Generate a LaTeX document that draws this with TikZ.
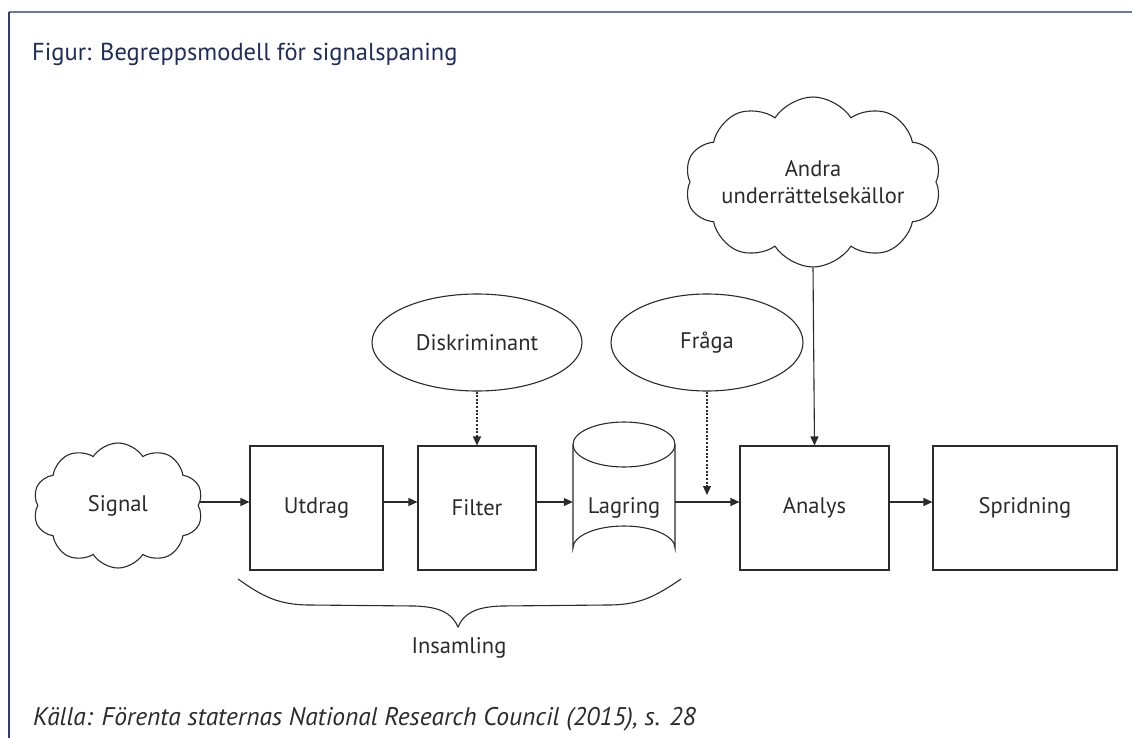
\documentclass[tikz,border=0pt]{standalone}
\usepackage{fontspec}
\setmainfont{PT Sans}
\usetikzlibrary{shapes.geometric,shapes.symbols,arrows.meta}
\definecolor{navy}{HTML}{1F2C5E}
\definecolor{framegray}{HTML}{6C7AA0}
\definecolor{framenavy}{HTML}{2E3C78}
\definecolor{ink}{HTML}{2B2B2B}
\tikzset{
  every node/.style={text=ink,font=\fontsize{22.5}{27}\selectfont},
  box/.style={draw=ink,line width=1.1pt,rectangle,minimum height=124pt,inner sep=0pt},
  oval/.style={draw=ink,line width=1.1pt,ellipse,minimum height=97pt,inner sep=0pt},
  puff/.style={draw=ink,line width=1.1pt,cloud,cloud puffs=10,cloud puff arc=115,cloud ignores aspect,inner sep=0pt},
  conn/.style={draw=ink,line width=1.1pt,-{Triangle[length=9pt,width=8pt]}},
  dotconn/.style={conn,dash pattern=on 2pt off 1.6pt}
}
\begin{document}
\begin{tikzpicture}[x=1pt,y=-1pt]
\useasboundingbox (0,0) rectangle (1132,738);
\fill[white] (0,0) rectangle (1132,738);
% frame
\draw[framegray,line width=2pt] (9,12) -- (1132,12);
\draw[framenavy,line width=1.5pt] (9,12) -- (9,738);
% title and source
\node[anchor=base west,text=navy,inner sep=0pt,font=\fontsize{24.5}{29}\selectfont] (title) at (32,61) {Figur: Begreppsmodell för signalspaning};
\node[anchor=base west,inner sep=0pt,font=\fontsize{25.5}{30}\selectfont\itshape] (source) at (33,725) {Källa: Förenta staternas National Research Council (2015), s. 28};
% main nodes
\node[puff,minimum width=170pt,minimum height=125pt] (signal) at (118,505.5) {Signal};
\node[box,minimum width=133pt] (utdrag) at (316.5,508) {Utdrag};
\node[box,minimum width=118pt] (filter) at (477,508) {Filter};
% cylinder drawn by hand
\draw[ink,line width=1.1pt] (573,444.5) -- (573,548) arc[start angle=180,end angle=360,x radius=51,y radius=22] -- (675,444.5);
\draw[ink,line width=1.1pt] (624,444.5) ellipse[x radius=51,y radius=22.5];
\node[minimum width=102pt,minimum height=124pt,inner sep=0pt] (lagring) at (624,508) {Lagring};
\node[box,minimum width=149pt] (analys) at (814.5,508) {Analys};
\node[box,minimum width=184pt] (spridning) at (1025,508) {Spridning};
\node[oval,minimum width=210pt] (disk) at (477,342.5) {Diskriminant};
\node[oval,minimum width=192pt] (fraga) at (707,342.5) {Fråga};
\node[puff,minimum width=232pt,minimum height=170pt,align=center] (andra) at (813,182) {Andra\\underrättelsekällor};
\coordinate (fq) at (707,495);
% connectors
\draw[conn] (signal.east |- 0,502) -- ([yshift=6pt]utdrag.west);
\draw[conn] ([yshift=6pt]utdrag.east) -- ([yshift=6pt]filter.west);
\draw[conn] ([yshift=6pt]filter.east) -- ([yshift=6pt]lagring.west);
\draw[conn] ([yshift=6pt]lagring.east) -- ([yshift=6pt]analys.west);
\draw[conn] ([yshift=6pt]analys.east) -- ([yshift=6pt]spridning.west);
\draw[dotconn] (disk.south) -- (filter.north);
\draw[dotconn] (fraga.south) -- (fq);
\draw[conn] (andra.south) -- (analys.north);
% brace
\draw[ink,line width=1.1pt] (238,579) .. controls (262,596) and (278,605) .. (310,605)
  -- (415,606) .. controls (440,607) and (452,613) .. (458,627)
  .. controls (464,613) and (476,607) .. (501,606)
  -- (608,605) .. controls (640,605) and (656,596) .. (681,579);
\node (insamling) at (459,648) {Insamling};
\end{tikzpicture}
\end{document}
